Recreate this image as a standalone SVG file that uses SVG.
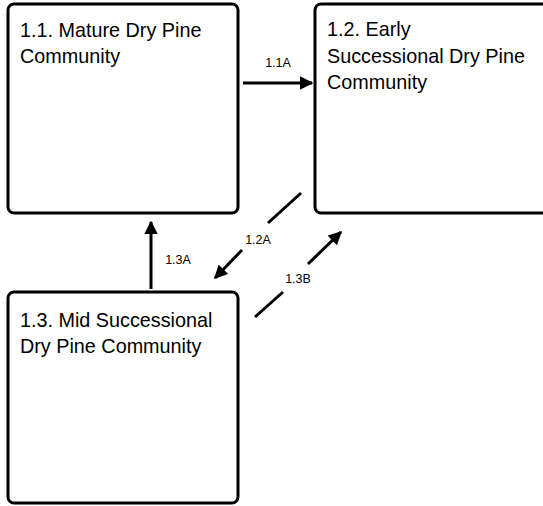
<svg xmlns="http://www.w3.org/2000/svg" width="543" height="506" viewBox="0 0 543 506">
<defs>
<style>
.box{fill:#fff;stroke:#000;stroke-width:3}
.t{font-family:"Liberation Sans",Arial,sans-serif;font-size:19.8px;fill:#000}
.l{font-family:"Liberation Sans",Arial,sans-serif;font-size:12.5px;fill:#000;text-anchor:middle}
.c{stroke:#000;stroke-width:3;fill:none}
</style>
<marker id="ah" viewBox="0 0 10 10" refX="9" refY="5" markerWidth="4.5" markerHeight="4.5" orient="auto" markerUnits="strokeWidth">
<path d="M0,0 L10,5 L0,10 z" fill="#000"/>
</marker>
</defs>
<rect width="543" height="506" fill="#fff"/>
<g id="n11">
<rect class="box" x="8" y="4" width="230" height="209" rx="6"/>
<text class="t" x="20" y="36.5">1.1. Mature Dry Pine</text>
<text class="t" x="20" y="63">Community</text>
</g>
<g id="n12">
<rect class="box" x="315" y="4" width="235" height="209" rx="6"/>
<text class="t" x="327" y="36">1.2. Early</text>
<text class="t" x="327" y="62.5">Successional Dry Pine</text>
<text class="t" x="327" y="89">Community</text>
</g>
<g id="n13">
<rect class="box" x="8" y="292" width="230" height="211" rx="6"/>
<text class="t" x="20" y="326.5">1.3. Mid Successional</text>
<text class="t" x="20" y="353">Dry Pine Community</text>
</g>
<g id="connectors">
<line class="c" x1="243" y1="83" x2="312" y2="83" marker-end="url(#ah)"/>
<text class="l" x="278" y="67">1.1A</text>
<line class="c" x1="151" y1="289" x2="151" y2="222" marker-end="url(#ah)"/>
<text class="l" x="178" y="264">1.3A</text>
<line class="c" x1="301" y1="193" x2="268" y2="223"/>
<line class="c" x1="242" y1="250" x2="215" y2="278" marker-end="url(#ah)"/>
<text class="l" x="258" y="244">1.2A</text>
<line class="c" x1="255" y1="317" x2="283" y2="292"/>
<line class="c" x1="308" y1="264" x2="341" y2="232" marker-end="url(#ah)"/>
<text class="l" x="298" y="283">1.3B</text>
</g>
</svg>
